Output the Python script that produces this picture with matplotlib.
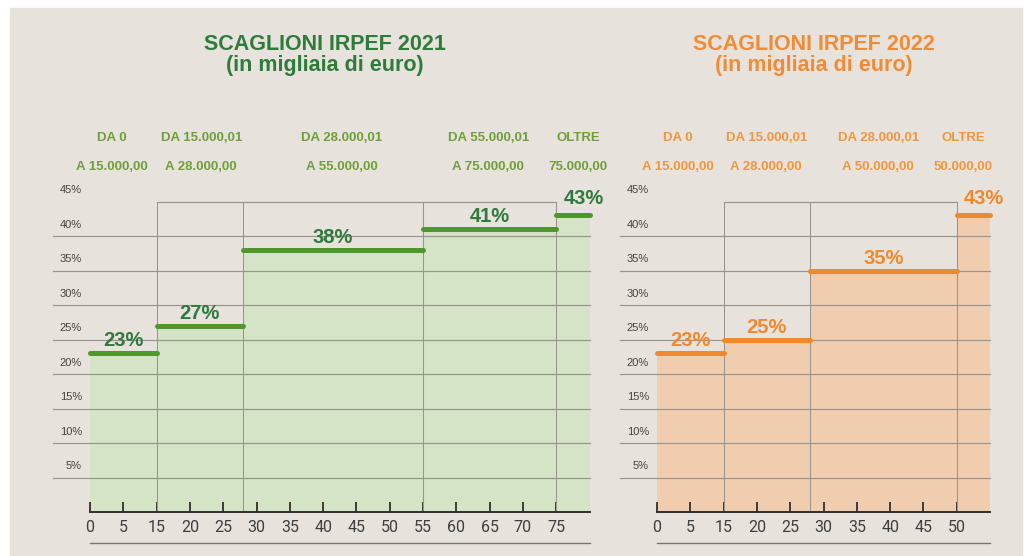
import numpy as np
import matplotlib
matplotlib.use("Agg")
import matplotlib.pyplot as plt
from matplotlib.patches import Rectangle
from matplotlib.transforms import blended_transform_factory

# ---------------- data ----------------
tick_labels_2021 = [0, 5, 15, 20, 25, 30, 35, 40, 45, 50, 55, 60, 65, 70, 75]
edges_2021 = [0, 15, 28, 55, 75, 80]          # thousand euro
rates_2021 = [23, 27, 38, 41, 43]             # %
head_top_2021 = ["DA 0", "DA 15.000,01", "DA 28.000,01", "DA 55.000,01", "OLTRE"]
head_bot_2021 = ["A 15.000,00", "A 28.000,00", "A 55.000,00", "A 75.000,00", "75.000,00"]

tick_labels_2022 = [0, 5, 15, 20, 25, 30, 35, 40, 45, 50]
edges_2022 = [0, 15, 28, 50, 55]
rates_2022 = [23, 25, 35, 43]
head_top_2022 = ["DA 0", "DA 15.000,01", "DA 28.000,01", "OLTRE"]
head_bot_2022 = ["A 15.000,00", "A 28.000,00", "A 50.000,00", "50.000,00"]

y_ticks = [5, 10, 15, 20, 25, 30, 35, 40, 45]

# ---------------- style ----------------
W, H = 1027, 556
BG = "#e7e2dc"
GRID = "#9a948e"
FONT = ["Liberation Sans", "DejaVu Sans"]

fig = plt.figure(figsize=(W / 100, H / 100), dpi=100, facecolor="white")
fig.patches.append(Rectangle((10 / W, 0), (1022 - 10) / W, (H - 8) / H,
                             transform=fig.transFigure, color=BG, zorder=-10))

PXU_X = 6.66   # pixels per x unit
PXU_Y = 6.9    # pixels per percentage point


def make_axes(px_left, px_zero, px_right):
    x0 = (px_left - px_zero) / PXU_X
    x1 = (px_right - px_zero) / PXU_X
    top_px = 180
    ax = fig.add_axes([px_left / W, (H - 512) / H, (px_right - px_left) / W,
                       (512 - top_px) / H])
    ax.set_xlim(x0, x1)
    ax.set_ylim(0, (512 - top_px) / PXU_Y)
    ax.set_facecolor("none")
    return ax


def draw_panel(ax, tick_labels, edges, rates, head_top, head_bot, head_pos,
               title, title_x, col_title, col_head, col_bar, col_num, col_fill):
    tick_pos = [5 * i for i in range(len(tick_labels))]
    lab_ext = list(tick_labels) + [tick_labels[-1] + 100]
    pos_ext = tick_pos + [tick_pos[-1] + 100]

    def to_pos(v):
        return np.interp(v, lab_ext, pos_ext)

    e = to_pos(np.array(edges, dtype=float))
    end = e[-1]

    # fill under step
    ax.fill_between(e, list(rates) + [rates[-1]], 0, step="post",
                    color=col_fill, lw=0, zorder=1)

    # horizontal gridlines
    for yv in y_ticks:
        if yv == 45:
            ax.plot([e[1], e[-2]], [yv, yv], color=GRID, lw=0.85, zorder=2)
        else:
            ax.plot([-5.6, end], [yv, yv], color=GRID, lw=0.85, zorder=2)
        ax.text(-1.2, yv + 1.6, f"{yv}%", ha="right", va="center",
                fontsize=8, color="#47423d", family=FONT, zorder=3)
    # vertical bracket boundaries
    ax.vlines(e[1:-1], 0, 45, color=GRID, lw=0.75, zorder=2)

    # step bars
    ax.hlines(rates, e[:-1], e[1:], color=col_bar, lw=3.6, zorder=4,
              capstyle="round")
    for i, r in enumerate(rates):
        xm = (e[i] + e[i + 1]) / 2
        dy = 1.8
        if i == len(rates) - 1:
            xm += 1.6
            dy = 2.4
        ax.text(xm, r + dy, f"{r}%", ha="center", va="center", fontsize=14.5,
                fontweight="bold", color=col_num, family=FONT, zorder=5)

    # x axis
    for s in ["top", "left", "right"]:
        ax.spines[s].set_visible(False)
    ax.spines["bottom"].set_bounds(0, end)
    ax.spines["bottom"].set_color("#2f2f2f")
    ax.spines["bottom"].set_linewidth(1.4)
    ax.set_yticks([])
    ax.set_xticks(tick_pos, [str(t) for t in tick_labels])
    ax.tick_params(axis="x", direction="in", length=7, width=1.3,
                   color="#2f2f2f", pad=6, labelsize=11.5, labelcolor="#3e3e3e")
    for lab in ax.get_xticklabels():
        lab.set_family(["Roboto", "DejaVu Sans"])
    ax.plot([0, end], [-31 / PXU_Y] * 2, color="#7a7570", lw=1.0,
            clip_on=False, zorder=2)

    # headers
    tr = blended_transform_factory(ax.transData, fig.transFigure)
    for xp, t1, t2 in zip(head_pos, head_top, head_bot):
        ax.text(xp, 1 - 138 / H, t1, transform=tr, ha="center", va="center",
                fontsize=9.5, fontweight="bold", color=col_head, family=FONT)
        ax.text(xp, 1 - 167 / H, t2, transform=tr, ha="center", va="center",
                fontsize=9.5, fontweight="bold", color=col_head, family=FONT)

    # title
    fig.text(title_x / W, 1 - 44 / H, title, ha="center", va="center",
             fontsize=15.5, fontweight="bold", color=col_title, family=FONT)
    fig.text(title_x / W, 1 - 66 / H, "(in migliaia di euro)", ha="center",
             va="center", fontsize=15.5, fontweight="bold", color=col_title,
             family=FONT)


ax1 = make_axes(45, 90, 605)
draw_panel(ax1, tick_labels_2021, edges_2021, rates_2021, head_top_2021,
           head_bot_2021, [3.3, 16.7, 37.8, 59.8, 73.3],
           "SCAGLIONI IRPEF 2021", 325,
           "#2e7b3c", "#6f9f3a", "#4f962c", "#2f7a3c", "#d5e3c7")

ax2 = make_axes(612, 657, 1012)
draw_panel(ax2, tick_labels_2022, edges_2022, rates_2022, head_top_2022,
           head_bot_2022, [3.2, 16.4, 33.2, 46.0],
           "SCAGLIONI IRPEF 2022", 814,
           "#f08c35", "#f1963f", "#ef8a2c", "#f0892e", "#f0cdaf")

fig.savefig("out.png", dpi=100, facecolor=fig.get_facecolor())
